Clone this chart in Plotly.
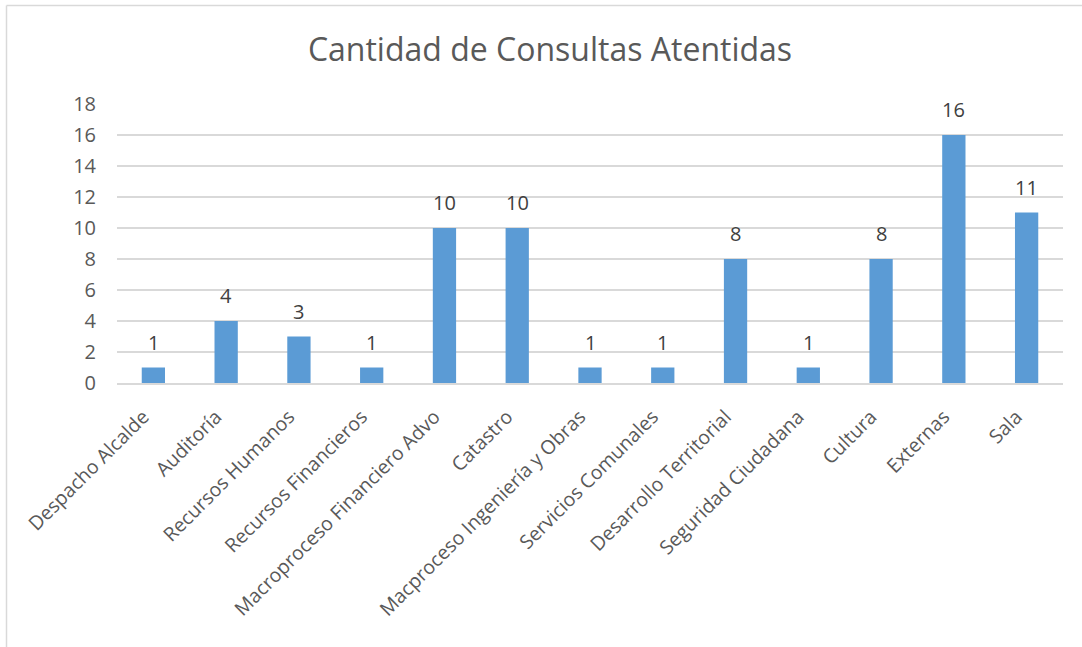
import plotly.graph_objects as go

categories = ["Despacho Alcalde", "Auditoría", "Recursos Humanos", "Recursos Financieros",
              "Macroproceso Financiero Advo", "Catastro", "Macproceso Ingeniería y Obras",
              "Servicios Comunales", "Desarrollo Territorial", "Seguridad Ciudadana",
              "Cultura", "Externas", "Sala"]
consultas = [1, 4, 3, 1, 10, 10, 1, 1, 8, 1, 8, 16, 11]
y_ticks = [0, 2, 4, 6, 8, 10, 12, 14, 16, 18]

W, H = 1082, 647
L, R, T, B = 117, 19, 104, 264
pw, ph = W - L - R, H - T - B

fig = go.Figure()
fig.add_trace(go.Bar(
    x=categories, y=consultas,
    marker=dict(color="#5B9BD5", line=dict(width=0)),
))

# data labels above bars
for cat, val in zip(categories, consultas):
    fig.add_annotation(x=cat, y=val, text=str(val), showarrow=False,
                       yanchor="bottom", yshift=10,
                       font=dict(size=20, color="#404040", family="Open Sans"))

# chart frame (top and left edges visible)
fx = (6.5 - L) / pw
fy_top = (H - B - 5.5) / ph
fy_bot = (H - B - H) / ph
fig.add_shape(type="line", xref="paper", yref="paper", x0=fx, x1=1.5, y0=fy_top, y1=fy_top,
              line=dict(color="#D9D9D9", width=1.5))
fig.add_shape(type="line", xref="paper", yref="paper", x0=fx, x1=fx, y0=fy_top, y1=fy_bot,
              line=dict(color="#D9D9D9", width=1.5))

fig.update_layout(
    width=W, height=H,
    margin=dict(l=L, r=R, t=T, b=B, autoexpand=False),
    paper_bgcolor="white", plot_bgcolor="white",
    title=dict(text="Cantidad de Consultas Atentidas", x=550 / W, xanchor="center",
               y=1 - 50 / H, yanchor="middle",
               font=dict(size=32, color="#595959", family="Open Sans")),
    bargap=0.68,
    showlegend=False,
    font=dict(family="Open Sans", color="#595959"),
)
fig.update_yaxes(range=[0, 18], tickvals=y_ticks, showgrid=True, gridcolor="#D9D9D9",
                 gridwidth=1.5, zeroline=False, showline=False, ticks="",
                 tickfont=dict(size=20, color="#595959"), ticklabelstandoff=20)
fig.update_xaxes(tickangle=-45, showline=True, linecolor="#D9D9D9", linewidth=1.5,
                 ticks="", tickfont=dict(size=19.5, color="#595959"),
                 ticklabelstandoff=13, ticklabelshift=-10)

fig.write_html("out.html", config={"displayModeBar": False},
               post_script="document.body.style.margin='0';")
